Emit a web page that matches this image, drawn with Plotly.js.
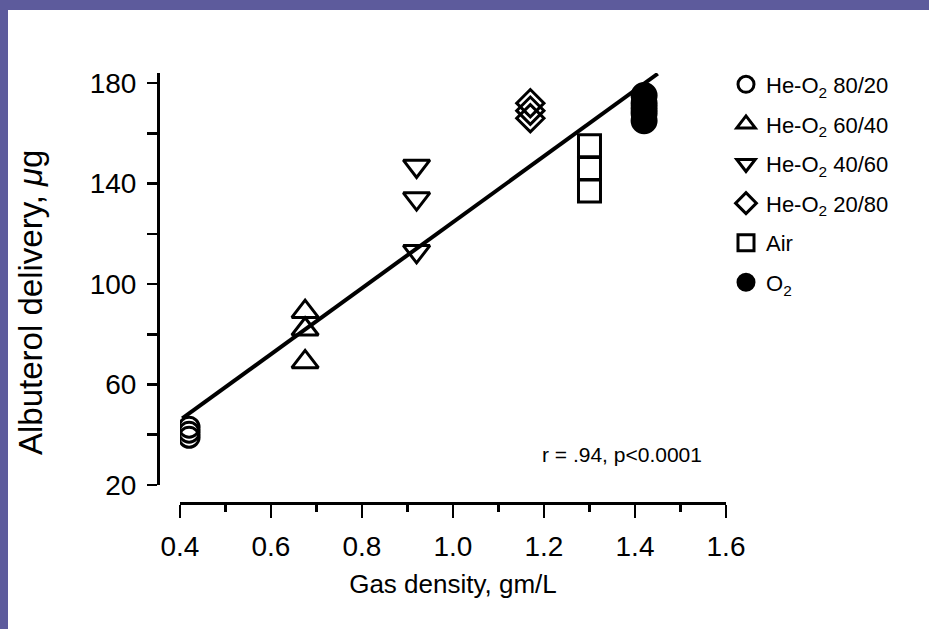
<!DOCTYPE html>
<html>
<head>
<meta charset="utf-8">
<script src="https://cdn.plot.ly/plotly-3.0.1.min.js"></script>
<style>
  html, body { margin: 0; padding: 0; width: 929px; height: 629px; background: #5d5b9c; overflow: hidden; }
  #chart { position: absolute; left: 8px; top: 10px; width: 921px; height: 619px; }
</style>
</head>
<body>
<div id="chart"></div>
<script>
// Data
const seriesNames = ["He-O<sub>2</sub> 80/20", "He-O<sub>2</sub> 60/40", "He-O<sub>2</sub> 40/60", "He-O<sub>2</sub> 20/80", "Air", "O<sub>2</sub>"];
const heO2_80_20_x = [0.42, 0.42, 0.42];
const heO2_80_20_y = [43, 41, 39];
const heO2_60_40_x = [0.675, 0.675, 0.675];
const heO2_60_40_y = [89, 82, 69];
const heO2_40_60_x = [0.92, 0.92, 0.92];
const heO2_40_60_y = [147, 134, 113];
const heO2_20_80_x = [1.17, 1.17, 1.17];
const heO2_20_80_y = [172, 169, 166];
const air_x = [1.30, 1.30, 1.30];
const air_y = [155, 146, 137];
const o2_x = [1.42, 1.42, 1.42, 1.42, 1.42];
const o2_y = [175, 172, 170, 168, 165];
const fitX = [0.405, 1.45];
const fitY = [46.5, 183.7];
const statText = "r = .94, p<0.0001";
const xTitle = "Gas density, gm/L";
const yTitle = "Albuterol delivery, <i>μ</i>g";

const FONT = "Liberation Sans, Arial, Helvetica, sans-serif";
const symbols = ["circle-open", "triangle-up-open", "triangle-down-open", "diamond-open", "square-open", "circle"];
const sizes = [20, 23, 23, 21, 22, 24];
const xs = [heO2_80_20_x, heO2_60_40_x, heO2_40_60_x, heO2_20_80_x, air_x, o2_x];
const ys = [heO2_80_20_y, heO2_60_40_y, heO2_40_60_y, heO2_20_80_y, air_y, o2_y];

const traces = [{
  x: fitX, y: fitY, mode: "lines", type: "scatter",
  line: {color: "#000", width: 4}, showlegend: false, hoverinfo: "skip"
}];
for (let i = 0; i < seriesNames.length; i++) {
  traces.push({
    x: xs[i], y: ys[i], mode: "markers", type: "scatter",
    name: seriesNames[i], legendgroup: "g" + i,
    marker: {symbol: symbols[i], size: sizes[i], color: "#000", line: {color: "#000", width: 3}}
  });
}

const layout = {
  width: 921, height: 619,
  paper_bgcolor: "#ffffff", plot_bgcolor: "#ffffff",
  margin: {l: 150, r: 203, t: 63, b: 126},
  font: {family: FONT, color: "#000", size: 18},
  showlegend: true,
  legend: {
    x: 1.0, y: 1.022, xanchor: "left", yanchor: "top",
    font: {family: FONT, size: 22, color: "#000"},
    traceorder: "grouped", tracegroupgap: 8,
    bgcolor: "rgba(0,0,0,0)", itemwidth: 30
  },
  xaxis: {
    domain: [0.0387, 1], range: [0.4, 1.6], anchor: "free", position: 0,
    showgrid: false, zeroline: false,
    showline: true, linecolor: "#000", linewidth: 3,
    ticks: "outside", ticklen: 13, tickwidth: 2.5, tickcolor: "#000",
    tick0: 0.4, dtick: 0.2, tickformat: ".1f", ticklabelstandoff: 4,
    tickfont: {family: FONT, size: 28, color: "#000"},
    minor: {dtick: 0.1, tick0: 0.4, ticks: "outside", ticklen: 7, tickwidth: 2.5, tickcolor: "#000", showgrid: false},
    title: {text: xTitle, font: {family: FONT, size: 26, color: "#000"}, standoff: 14}
  },
  yaxis: {
    domain: [0.0419, 1], range: [20, 184], anchor: "free", position: 0,
    showgrid: false, zeroline: false,
    showline: true, linecolor: "#000", linewidth: 3,
    ticks: "outside", ticklen: 10, tickwidth: 2.5, tickcolor: "#000",
    tick0: 20, dtick: 40, ticklabelstandoff: 5,
    tickfont: {family: FONT, size: 28, color: "#000"},
    minor: {dtick: 20, tick0: 20, ticks: "outside", ticklen: 10, tickwidth: 2.5, tickcolor: "#000", showgrid: false}
  },
  annotations: [{
    x: 1.371, y: 32, xref: "x", yref: "y", text: statText, showarrow: false,
    font: {family: FONT, size: 21, color: "#000"}
  }, {
    x: -0.2254, y: 0.4674, xref: "paper", yref: "paper", text: yTitle, showarrow: false,
    textangle: -90, xanchor: "center", yanchor: "middle",
    font: {family: FONT, size: 33, color: "#000"}
  }]
};

Plotly.newPlot("chart", traces, layout, {staticPlot: true, displayModeBar: false});
</script>
</body>
</html>
